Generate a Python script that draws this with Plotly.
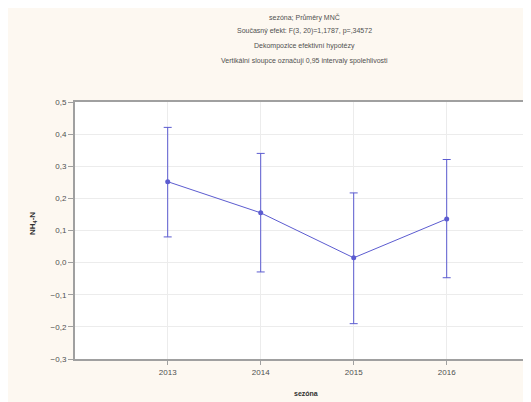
import plotly.graph_objects as go

# Data
years = [2013, 2014, 2015, 2016]
means = [0.252, 0.155, 0.015, 0.136]
upper = [0.421, 0.340, 0.217, 0.321]
lower = [0.080, -0.029, -0.190, -0.047]

y_ticks = [0.5, 0.4, 0.3, 0.2, 0.1, 0.0, -0.1, -0.2, -0.3]
title_lines = [
    "sezóna; Průměry MNČ",
    "Současný efekt: F(3, 20)=1,1787, p=,34572",
    "Dekompozice efektivní hypotézy",
    "Vertikální sloupce označují 0,95 intervaly spolehlivosti",
]
x_title = "sezóna"
y_title = "NH<sub>4</sub>-N"

# page body has an 8px margin: screen = figure + 8
OFF = 8
W, H = 531, 402
L = 75 - OFF
T = 102 - OFF
PLOT_BOTTOM = 359 - OFF
B = H - PLOT_BOTTOM
PW = W - L
PH = PLOT_BOTTOM - T

def px(x_screen):
    return (x_screen - OFF - L) / PW

def py(y_screen):
    return (PLOT_BOTTOM - (y_screen - OFF)) / PH

err_plus = [u - m for u, m in zip(upper, means)]
err_minus = [m - l for m, l in zip(means, lower)]

color = "#5c5cd0"
font_fam = "Liberation Sans, Arial, sans-serif"

fig = go.Figure()
fig.add_trace(go.Scatter(
    x=years, y=means, mode="lines+markers",
    line=dict(color=color, width=1),
    marker=dict(color=color, size=5, symbol="circle"),
    error_y=dict(type="data", symmetric=False, array=err_plus, arrayminus=err_minus,
                 color=color, thickness=1, width=4),
    showlegend=False,
))

annotations = []
ys = [17, 31, 46, 61]
for t, yy in zip(title_lines, ys):
    annotations.append(dict(text=t, x=px(304), y=py(yy), xref="paper", yref="paper",
                            showarrow=False, xanchor="center", yanchor="middle",
                            font=dict(size=7, color="#505050", family=font_fam)))
annotations.append(dict(text="<b>" + x_title + "</b>", x=px(306), y=py(393), xref="paper", yref="paper",
                        showarrow=False, xanchor="center", yanchor="middle",
                        font=dict(size=7, color="#303030", family=font_fam)))
annotations.append(dict(text="<b>" + y_title + "</b>", x=px(33), y=py(224), xref="paper", yref="paper",
                        showarrow=False, xanchor="center", yanchor="middle", textangle=-90,
                        font=dict(size=8, color="#303030", family=font_fam)))

unit_px = 93.0
x0 = 2013 - (167.7 - 75) / unit_px

fig.update_layout(
    width=W, height=H,
    margin=dict(l=L, r=0, t=T, b=B),
    paper_bgcolor="#fdf8f1",
    plot_bgcolor="white",
    separators=", ",
    font=dict(family=font_fam, size=8, color="#505050"),
    annotations=annotations,
    xaxis=dict(range=[x0, x0 + PW / unit_px], tickvals=years, ticktext=[str(y) for y in years],
               showgrid=True, gridcolor="#ececec", gridwidth=1,
               showline=True, linecolor="#a0a0a0", linewidth=2, mirror=True,
               ticks="outside", ticklen=4, tickcolor="#a0a0a0", zeroline=False,
               tickfont=dict(size=8, color="#505050")),
    yaxis=dict(range=[-0.3, 0.5], tickvals=y_ticks, tickformat=".1f",
               showgrid=True, gridcolor="#ececec", gridwidth=1,
               showline=True, linecolor="#a0a0a0", linewidth=2, mirror=False,
               ticks="outside", ticklen=5, tickcolor="#a0a0a0", zeroline=False,
               tickfont=dict(size=8, color="#505050")),
)

fig.write_html("out.html")
